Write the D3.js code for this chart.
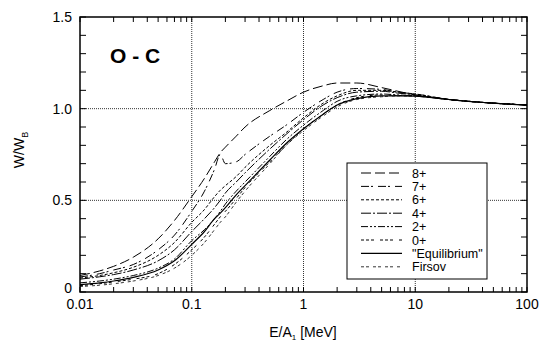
<!DOCTYPE html>
<html>
<head>
<meta charset="utf-8">
<script src="https://cdn.jsdelivr.net/npm/d3@7"></script>
<style>
  body { margin: 0; background: #fff; }
  text { font-family: "Liberation Sans", Arial, sans-serif; fill: #000; }
</style>
</head>
<body>
<div id="chart"></div>
<script>
// ================= data =============
var energies = [0.01, 0.015, 0.02, 0.03, 0.05, 0.07, 0.1, 0.13, 0.16, 0.18, 0.2, 0.25, 0.3, 0.5, 0.7, 1, 1.5, 2, 3, 5, 7, 10, 20, 50, 100];

var q8  = [0.09, 0.115, 0.14, 0.19, 0.29, 0.39, 0.52, 0.62, 0.71, 0.76, 0.79, 0.85, 0.9, 0.99, 1.04, 1.09, 1.125, 1.14, 1.14, 1.115, 1.095, 1.075, 1.05, 1.03, 1.02];
var q7  = [0.082, 0.1, 0.12, 0.15, 0.23, 0.31, 0.44, 0.55, 0.67, 0.75, 0.7, 0.71, 0.75, 0.85, 0.91, 0.98, 1.05, 1.09, 1.11, 1.105, 1.09, 1.08, 1.05, 1.03, 1.02];
var q6  = [0.076, 0.09, 0.105, 0.135, 0.2, 0.27, 0.38, 0.45, 0.52, 0.555, 0.58, 0.63, 0.68, 0.8, 0.87, 0.95, 1.03, 1.07, 1.1, 1.1, 1.09, 1.08, 1.05, 1.03, 1.02];
var q4  = [0.07, 0.083, 0.095, 0.12, 0.17, 0.23, 0.33, 0.4, 0.46, 0.5, 0.54, 0.6, 0.65, 0.78, 0.86, 0.94, 1.02, 1.06, 1.09, 1.095, 1.085, 1.075, 1.05, 1.03, 1.02];
var q2  = [0.05, 0.06, 0.07, 0.09, 0.13, 0.18, 0.28, 0.34, 0.4, 0.44, 0.48, 0.55, 0.6, 0.74, 0.83, 0.91, 0.99, 1.04, 1.07, 1.08, 1.075, 1.07, 1.05, 1.03, 1.02];
var q0  = [0.035, 0.045, 0.055, 0.07, 0.1, 0.15, 0.23, 0.3, 0.37, 0.41, 0.44, 0.51, 0.57, 0.71, 0.8, 0.89, 0.97, 1.02, 1.06, 1.075, 1.072, 1.07, 1.05, 1.03, 1.02];
var equil = [0.04, 0.05, 0.06, 0.08, 0.12, 0.17, 0.26, 0.33, 0.4, 0.43, 0.46, 0.53, 0.58, 0.72, 0.81, 0.89, 0.97, 1.02, 1.055, 1.07, 1.07, 1.068, 1.05, 1.03, 1.02];
var firsov = [0.03, 0.037, 0.045, 0.06, 0.09, 0.13, 0.2, 0.27, 0.34, 0.38, 0.41, 0.49, 0.55, 0.7, 0.8, 0.88, 0.96, 1.01, 1.05, 1.065, 1.07, 1.068, 1.05, 1.03, 1.02];

var seriesNames = ["8+", "7+", "6+", "4+", "2+", "0+", "\"Equilibrium\"", "Firsov"];
var seriesValues = [q8, q7, q6, q4, q2, q0, equil, firsov];
var dashes = ["10,4", "8,2,2,5", "3,2", "10,2,2,2", "7,2,2,2,2,2", "3,2,3,2,3,6", null, "3,2,3,4"];
var widths = [1, 1, 1, 1, 1, 1, 1.2, 0.8];

var xTickLabels = ["0.01", "0.1", "1", "10", "100"];
var yTickValues = [0, 0.5, 1.0, 1.5];
var yTickLabels = ["0", "0.5", "1.0", "1.5"];

// ================= layout =============
var svgWidth = 540;
var svgHeight = 349;
var margin = { top: 17, right: 13, bottom: 57, left: 80 };
var width = svgWidth - margin.left - margin.right;
var height = svgHeight - margin.top - margin.bottom;

var svg = d3.select("#chart")
  .append("svg")
  .attr("width", svgWidth)
  .attr("height", svgHeight);

var chartGroup = svg.append("g")
  .attr("transform", `translate(${margin.left}, ${margin.top})`);

var xScale = d3.scaleLog().domain([0.01, 100]).range([0, width]);
var yScale = d3.scaleLinear().domain([0, 1.5]).range([height, 0]);

// ================= grid =============
var gridX = [0.1, 1, 10];
var gridY = [0.5, 1.0];
chartGroup.selectAll(".gx").data(gridX).enter().append("line")
  .attr("x1", d => xScale(d)).attr("x2", d => xScale(d))
  .attr("y1", 0).attr("y2", height)
  .attr("stroke", "#000").attr("stroke-width", 0.8)
  .attr("stroke-dasharray", "1,1");
chartGroup.selectAll(".gy").data(gridY).enter().append("line")
  .attr("x1", 0).attr("x2", width)
  .attr("y1", d => yScale(d)).attr("y2", d => yScale(d))
  .attr("stroke", "#000").attr("stroke-width", 0.8)
  .attr("stroke-dasharray", "1,1");

// ================= ticks (inside, all sides) =============
var xMinor = [];
[0.01, 0.1, 1, 10].forEach(function(dec) {
  for (var k = 2; k <= 9; k++) xMinor.push(dec * k);
});
var xMajor = [0.01, 0.1, 1, 10, 100];
var yMinor = d3.range(0, 1.51, 0.1);

function tickLines(cls, data, x1, x2, y1, y2) {
  chartGroup.selectAll("." + cls).data(data).enter().append("line")
    .attr("class", cls)
    .attr("x1", x1).attr("x2", x2).attr("y1", y1).attr("y2", y2)
    .attr("stroke", "#000").attr("stroke-width", 1);
}
tickLines("xb", xMinor.concat(xMajor), d => xScale(d), d => xScale(d), height, height - 5);
tickLines("xt", xMinor.concat(xMajor), d => xScale(d), d => xScale(d), 0, 5);
tickLines("yl", yMinor, 0, 6, d => yScale(d), d => yScale(d));
tickLines("yr", yMinor, width, width - 6, d => yScale(d), d => yScale(d));

// tick labels
chartGroup.selectAll(".xl").data(xMajor).enter().append("text")
  .attr("x", d => xScale(d))
  .attr("y", height + 17)
  .attr("text-anchor", "middle")
  .style("font-size", "14px")
  .text((d, i) => xTickLabels[i]);

// the "0" sits a bit higher so it clears "0.01"
chartGroup.selectAll(".ylab").data(yTickValues).enter().append("text")
  .attr("x", -8)
  .attr("y", d => d === 0 ? yScale(d) + 1 : yScale(d) + 5)
  .attr("text-anchor", "end")
  .style("font-size", "14px")
  .text((d, i) => yTickLabels[i]);

// ================= curves =============
var line = d3.line()
  .x(d => xScale(d[0]))
  .y(d => yScale(d[1]))
  .curve(d3.curveMonotoneX);

chartGroup.append("defs").append("clipPath").attr("id", "clip")
  .append("rect").attr("width", width).attr("height", height);

var curves = chartGroup.append("g").attr("clip-path", "url(#clip)");
seriesValues.forEach(function(vals, i) {
  curves.append("path")
    .datum(energies.map((e, j) => [e, vals[j]]))
    .attr("d", line)
    .attr("fill", "none")
    .attr("stroke", "#000")
    .attr("stroke-width", widths[i])
    .attr("stroke-dasharray", dashes[i]);
});

// frame
chartGroup.append("rect")
  .attr("width", width).attr("height", height)
  .attr("fill", "none").attr("stroke", "#000").attr("stroke-width", 1.5);

// title
chartGroup.append("text")
  .attr("x", 30).attr("y", 46)
  .style("font-size", "21px").style("font-weight", "bold")
  .text("O - C");

// ================= legend =============
var legend = chartGroup.append("g")
  .attr("transform", `translate(${347 - margin.left}, ${163 - margin.top})`);
legend.append("rect")
  .attr("width", 140).attr("height", 116)
  .attr("fill", "#fff").attr("stroke", "#000").attr("stroke-width", 1);
seriesNames.forEach(function(name, i) {
  var yy = 10 + i * 13.4;
  legend.append("line")
    .attr("x1", 14).attr("x2", 55).attr("y1", yy).attr("y2", yy)
    .attr("stroke", "#000").attr("stroke-width", widths[i])
    .attr("stroke-dasharray", dashes[i]);
  legend.append("text")
    .attr("x", 65).attr("y", yy + 4.5)
    .style("font-size", "12.5px")
    .text(name);
});

// ================= axis labels =============
var xLabel = svg.append("text")
  .attr("x", 303).attr("y", 337)
  .attr("text-anchor", "middle")
  .style("font-size", "14px");
xLabel.append("tspan").text("E/A");
xLabel.append("tspan").attr("dy", 3).style("font-size", "8px").text("1");
xLabel.append("tspan").attr("dy", -3).text(" [MeV]");

var yLabel = svg.append("text")
  .attr("transform", "translate(24, 150) rotate(-90)")
  .attr("text-anchor", "middle")
  .style("font-size", "14px");
yLabel.append("tspan").text("W/W");
yLabel.append("tspan").attr("dy", 4).style("font-size", "9px").text("B");
</script>
</body>
</html>
